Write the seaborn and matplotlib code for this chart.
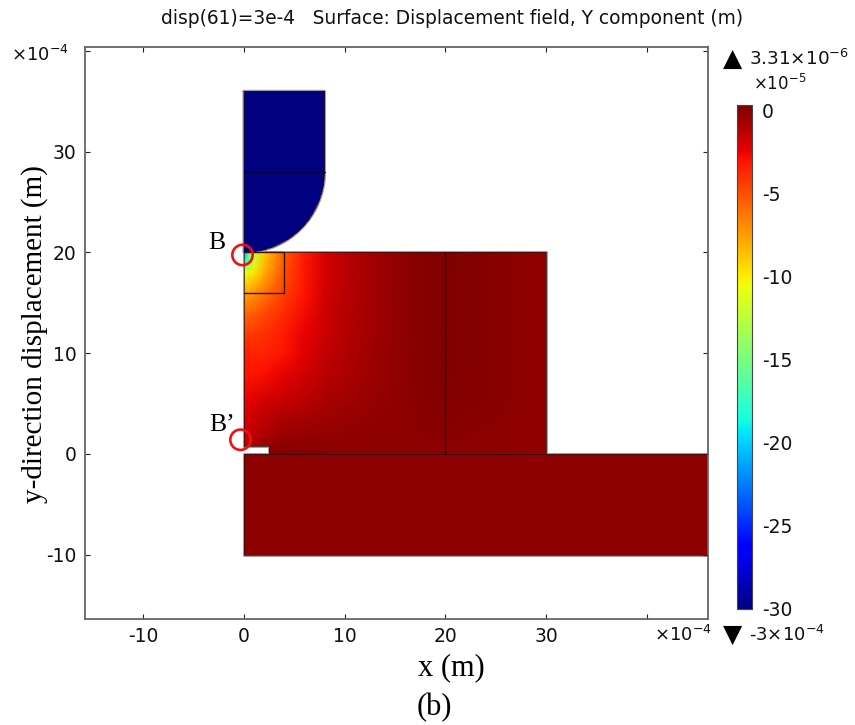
import numpy as np
import pandas as pd
import seaborn as sns
import matplotlib.pyplot as plt
from matplotlib.cm import ScalarMappable
from matplotlib.colors import Normalize
from matplotlib.patches import Polygon

sns.set_theme(style="ticks")
plt.rcParams['font.family'] = ['DejaVu Sans']
plt.rcParams['mathtext.default'] = 'regular'

# Data (x, y in 1e-4 m, displacement in 1e-5 m)

block_x = [0, 0.5, 1, 2, 4, 6, 8, 10, 13, 16, 20, 25, 30]
block_y = [0, 2, 5, 8, 10, 12, 14, 16, 18, 19, 20]
block_v = [
    [-1.2, -1.0, -0.7, -0.1, 0.2, 0.1, 0.0, -0.1, -0.1, -0.1, -0.05, -0.1, -0.15],
    [-1.6, -1.5, -1.3, -0.9, -0.4, -0.3, -0.2, -0.15, -0.1, -0.1, 0.05, -0.1, -0.15],
    [-2.3, -2.2, -2.1, -1.8, -1.4, -1.1, -0.8, -0.55, -0.3, -0.05, 0.15, 0.0, -0.15],
    [-3.0, -3.0, -3.0, -2.9, -2.5, -1.9, -1.3, -0.9, -0.4, -0.05, 0.25, 0.05, -0.15],
    [-3.4, -3.5, -3.5, -3.5, -3.0, -2.2, -1.5, -1.0, -0.45, -0.05, 0.3, 0.05, -0.15],
    [-4.3, -4.3, -4.2, -4.0, -3.3, -2.5, -1.7, -1.1, -0.5, -0.05, 0.3, 0.05, -0.15],
    [-5.7, -5.6, -5.4, -4.8, -3.7, -2.8, -1.8, -1.2, -0.55, -0.05, 0.33, 0.05, -0.15],
    [-7.8, -7.5, -7.1, -6.2, -4.5, -3.1, -1.9, -1.3, -0.55, -0.05, 0.33, 0.05, -0.15],
    [-11.0, -10.5, -9.8, -8.0, -5.0, -3.2, -2.0, -1.3, -0.55, -0.05, 0.33, 0.05, -0.15],
    [-17.0, -14.5, -11.5, -8.5, -5.2, -3.2, -2.0, -1.3, -0.55, -0.05, 0.33, 0.05, -0.15],
    [-21.0, -17.0, -13.0, -9.0, -5.3, -3.3, -2.0, -1.3, -0.55, -0.05, 0.33, 0.05, -0.15],
]

punch_x = [0, 8]
punch_y = [20, 36]
punch_v = [[-30, -30], [-30, -30]]

base_x = [0, 47]
base_y = [-10, 0]
base_v = [[-0.12, -0.12], [-0.12, -0.12]]

xticks = [-10, 0, 10, 20, 30, 40]
xlabels = ['-10', '0', '10', '20', '30', '']
yticks = [-10, 0, 10, 20, 30, 40]
ylabels = ['-10', '0', '10', '20', '30', '']
cbar_ticks = [0, -5, -10, -15, -20, -25, -30]
cbar_labels = ['0', '-5', '-10', '-15', '-20', '-25', '-30']
field_max = 0.331
field_min = -30

block_outline = pd.DataFrame({
    "x": [0, 2.5, 2.5, 30, 30, 0, 0],
    "y": [0.8, 0.8, 0, 0, 20, 20, 0.8]})
square_outline = pd.DataFrame({"x": [0, 4, 4, 0], "y": [20, 20, 16, 16]})
divider = pd.DataFrame({"x": [20, 20], "y": [0, 20]})
punch_line = pd.DataFrame({"x": [0, 8], "y": [28, 28]})
base_outline = pd.DataFrame({"x": [47, 0, 0, 47, 47], "y": [0, 0, -10, -10, 0]})

radius = 8
theta = np.linspace(0, -np.pi / 2, 60)
punch_outline = pd.DataFrame({
    "x": np.r_[0, 8, radius * np.cos(theta), 0],
    "y": np.r_[36, 36, 28 + radius * np.sin(theta), 36]})

marked_x = [-0.15, -0.35]
marked_y = [19.75, 1.4]

# Create figure

W, H = 855, 725
fig = plt.figure(figsize=(W / 100, H / 100), dpi=100)
ax = fig.add_axes([85 / W, 1 - 619 / H, 623 / W, 572 / H])
cax = fig.add_axes([737 / W, 1 - 609 / H, 15 / W, 504 / H])

norm = Normalize(field_min, field_max)
cmap = plt.get_cmap("jet")


def field(xs, ys, vals, outline):
    mesh = ax.pcolormesh(xs, ys, np.array(vals), cmap=cmap, norm=norm, shading="gouraud", zorder=1)
    clip = Polygon(outline[["x", "y"]].to_numpy(), closed=True, transform=ax.transData)
    mesh.set_clip_path(clip)


field(block_x, block_y, block_v, block_outline)
field(punch_x, punch_y, punch_v, punch_outline)
field(base_x, base_y, base_v, base_outline)


def outline(df, color, lw, z=3):
    sns.lineplot(data=df, x="x", y="y", sort=False, estimator=None, color=color, lw=lw, ax=ax, zorder=z)


for df in [block_outline, punch_outline, base_outline]:
    outline(df, "#a0a0a0", 2.2, 0.5)
    outline(df, "#301010", 0.5)
outline(square_outline, "#401000", 1.0)
outline(divider, "#200000", 0.9)
outline(punch_line, "#000030", 0.9)

sns.scatterplot(x=marked_x, y=marked_y, s=215, marker="o", facecolor="none", edgecolor="#ee1111",
                linewidth=1.9, ax=ax, zorder=5, clip_on=False)

ax.set_xlim(-15.8, 46.1)
ax.set_ylim(-16.4, 40.4)
ax.set_xticks(xticks, xlabels, fontsize=13.5)
ax.set_yticks(yticks, ylabels, fontsize=13.5)
ax.tick_params(direction="in", length=3.5, width=0.8, top=True, right=True, color="#222222",
               labelcolor="#111111", pad=6)
ax.set_xlabel("")
ax.set_ylabel("")
for s in ax.spines.values():
    s.set_visible(True)
    s.set_color("#666666")
    s.set_linewidth(1.3)

# Colorbar

cb = fig.colorbar(ScalarMappable(norm=norm, cmap=cmap), cax=cax)
cb.set_ticks(cbar_ticks, labels=cbar_labels)
cb.ax.tick_params(direction="in", length=2.5, width=0.8, labelsize=13.5, pad=7, color="#222222",
                  labelcolor="#111111", right=True)
cb.outline.set_edgecolor("#444444")
cb.outline.set_linewidth(0.8)


def put(px, py, s, **kw):
    return fig.text(px / W, 1 - py / H, s, **kw)


serif = ['Liberation Serif']
put(452, 19, "disp(61)=3e-4   Surface: Displacement field, Y component (m)",
    ha="center", va="center", fontsize=13.4, color="#111111")
put(35, 334, "y-direction displacement (m)", rotation=90, ha="center", va="center",
    fontsize=21, family=serif, color="black")
put(451, 668, "x (m)", ha="center", va="center", fontsize=22, family=serif, color="black")
put(434, 708, "(b)", ha="center", va="center", fontsize=22, family=serif, color="black")
put(217, 243, "B", ha="center", va="center", fontsize=18.5, family=serif, color="black")
put(222, 425, "B\u2019", ha="center", va="center", fontsize=18.5, family=serif, color="black")

put(69, 55, r"$\mathregular{{\times}10^{-4}}$", ha="right", va="center", fontsize=13, color="#111111")
put(712, 635, r"$\mathregular{{\times}10^{-4}}$", ha="right", va="center", fontsize=13, color="#111111")
put(753, 84, r"$\mathregular{{\times}10^{-5}}$", ha="left", va="center", fontsize=12, color="#111111")
put(733, 59, "\u25B2", ha="center", va="center", fontsize=18, color="black")
put(733, 635, "\u25BC", ha="center", va="center", fontsize=18, color="black")
put(749, 59, r"$\mathregular{3.31{\times}10^{-6}}$", ha="left", va="center", fontsize=13.2, color="#111111")
put(749, 635, r"$\mathregular{\text{-}3{\times}10^{-4}}$", ha="left", va="center", fontsize=13, color="#111111")

fig.savefig("out.png", dpi=100)
